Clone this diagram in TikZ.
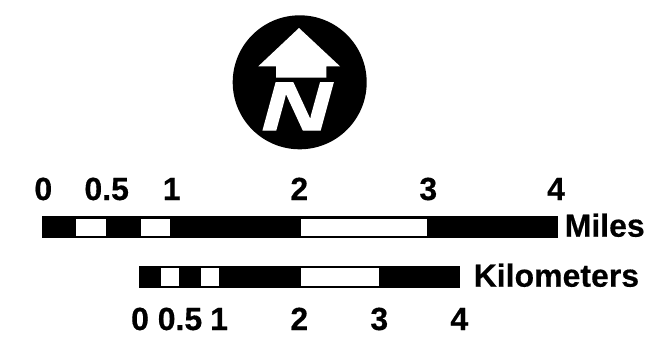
\documentclass[tikz,border=0pt]{standalone}
\usepackage{fontspec}
\setmainfont{Liberation Sans}[BoldFeatures={FakeBold=0.4}]
\newfontfamily\northfont{Liberation Sans}[BoldItalicFeatures={FakeBold=1.5}]
\tikzset{
  x=1pt,y=-1pt,
  lbl/.style={inner sep=0pt,anchor=base,font=\fontsize{32}{32}\selectfont\bfseries,text=black},
  lblw/.style={inner sep=0pt,anchor=base west,font=\fontsize{32}{32}\selectfont\bfseries,text=black},
  barblack/.style={fill=black,draw=none},
  barwhite/.style={fill=white,draw=none}
}
\begin{document}
\begin{tikzpicture}
\useasboundingbox (0,0) rectangle (654,343);
\fill[white] (0,0) rectangle (654,343);
% north arrow
\fill[black] (299.7,82.3) circle[radius=67];
\fill[white] (299,28) -- (340,66.3) -- (326.3,66.3) -- (326.3,77.7) -- (276,77.7) -- (276,66.3) -- (258.3,66.3) -- cycle;
\node[inner sep=0pt,text=white,anchor=base] (north) at (296.5,130) {\scalebox{1.4}[1]{\fontsize{69}{69}\selectfont\northfont\bfseries\itshape N}};
% miles bar
\fill[barblack] (41.7,216.3) rectangle (557.7,237.7);
\fill[barwhite] (76.3,218.7) rectangle (106,235.7);
\fill[barwhite] (140.7,218.7) rectangle (170.3,235.7);
\fill[barwhite] (300.7,218.7) rectangle (427.3,235.7);
% km bar
\fill[barblack] (139,266) rectangle (460,287.7);
\fill[barwhite] (161.3,268.3) rectangle (178.7,285.7);
\fill[barwhite] (201,268.3) rectangle (219.3,285.7);
\fill[barwhite] (300.7,268.3) rectangle (378.7,285.7);
% labels
\node[lbl] (m0) at (43.3,200) {0};
\node[lbl] (m05) at (106.7,200) {0.5};
\node[lbl] (m1) at (171.7,200) {1};
\node[lbl] (m2) at (299.3,200) {2};
\node[lbl] (m3) at (428.3,200) {3};
\node[lbl] (m4) at (556,200) {4};
\node[lblw] (miles) at (564.5,236.7) {Miles};
\node[lblw] (km) at (473.5,286.7) {Kilometers};
\node[lbl] (k0) at (140,330) {0};
\node[lbl] (k05) at (180,330) {0.5};
\node[lbl] (k1) at (219,330) {1};
\node[lbl] (k2) at (299.3,330) {2};
\node[lbl] (k3) at (379.3,330) {3};
\node[lbl] (k4) at (459.3,330) {4};
\end{tikzpicture}
\end{document}
